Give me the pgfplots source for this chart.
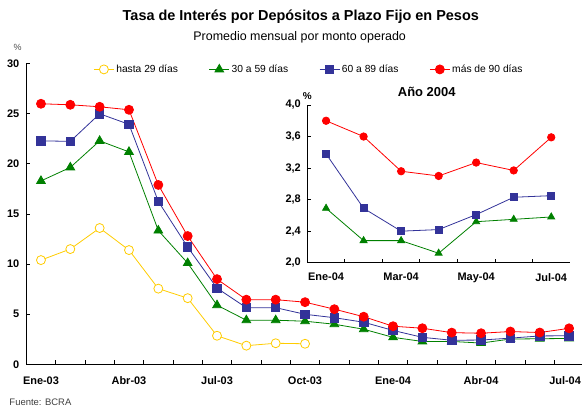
\documentclass[border=0pt]{standalone}
\usepackage{fontspec}
\setmainfont{Liberation Sans}
\usepackage{pgfplots}
\pgfplotsset{compat=1.18}

\definecolor{cyel}{HTML}{FFCC00}
\definecolor{cgrn}{HTML}{008000}
\definecolor{cblu}{HTML}{333399}
\definecolor{cred}{HTML}{FF0000}

\pgfplotsset{
  tasa/.style={
    scale only axis,
    axis lines=left,
    axis line style={-, line width=0.8bp},
    tick align=inside,
    major tick length=4bp, minor tick length=4bp,
    tick style={black, line width=0.8bp},
    major x tick style={draw=none},
    /pgf/number format/assume math mode=true,
    ticklabel style={font=\bfseries\fontsize{11}{13}\selectfont},
    clip=false,
  },
}

\begin{document}
\begin{tikzpicture}
\useasboundingbox (0,0) rectangle (582bp,411bp);

% main chart, Ene-03 .. Jul-04
\begin{axis}[tasa,
    at={(26.3bp,46.7bp)}, anchor=south west,
    width=555.7bp, height=300.6bp,
    xmin=-0.5, xmax=18.44, ymin=0, ymax=30,
    xtick={0,3,...,15},
    xticklabels={Ene-03,Abr-03,Jul-03,Oct-03,Ene-04,Abr-04},
    extra x ticks={18},
    extra x tick labels={Jul-04},
    extra x tick style={major tick length=0pt, xticklabel style={xshift=-4bp}},
    minor xtick={0.5,1.5,...,17.5},
    ytick={0,5,...,30},
    xticklabel style={yshift=-9bp},
    yticklabel style={xshift=-3.5bp},
    legend columns=4,
    legend image code/.code={\draw[mark repeat=2,mark phase=2,#1] plot coordinates {(0bp,0bp) (10bp,0bp) (20bp,0bp)};},
    legend style={draw=none, fill=none, inner sep=0pt,
      at={(0.1206,0.981)}, anchor=west,
      font=\fontsize{10.3}{12}\selectfont,
      /tikz/every even column/.append style={column sep=29bp}},
]
\addplot[cyel, line width=0.8bp, mark=*, mark size=4.5bp, mark options={fill=white, draw=cyel}]
  coordinates {(0,10.4) (1,11.5) (2,13.6) (3,11.4) (4,7.55) (5,6.6) (6,2.85) (7,1.86) (8,2.1) (9,2.05)};
\addplot[cgrn, line width=0.8bp, mark=triangle*, mark size=5bp, mark options={fill=cgrn}]
  coordinates {(0,18.3) (1,19.65) (2,22.3) (3,21.2) (4,13.35) (5,10.1) (6,5.9) (7,4.4) (8,4.4) (9,4.3)
    (10,4.0) (11,3.5) (12,2.69) (13,2.28) (14,2.28) (15,2.12) (16,2.52) (17,2.55) (18,2.58)};
\addplot[cblu, line width=0.8bp, mark=square*, mark size=4.2bp, mark options={fill=cblu}]
  coordinates {(0,22.3) (1,22.25) (2,25.0) (3,23.95) (4,16.25) (5,11.7) (6,7.6) (7,5.65) (8,5.65) (9,4.99)
    (10,4.65) (11,4.2) (12,3.38) (13,2.69) (14,2.40) (15,2.42) (16,2.61) (17,2.83) (18,2.85)};
\addplot[cred, line width=0.8bp, mark=*, mark size=4.5bp, mark options={fill=cred}]
  coordinates {(0,26.0) (1,25.9) (2,25.7) (3,25.4) (4,17.9) (5,12.8) (6,8.5) (7,6.45) (8,6.45) (9,6.2)
    (10,5.5) (11,4.75) (12,3.80) (13,3.60) (14,3.16) (15,3.10) (16,3.27) (17,3.17) (18,3.59)};
\legend{hasta 29 días, 30 a 59 días, 60 a 89 días, más de 90 días}
\end{axis}

% inset, year 2004
\begin{axis}[tasa,
    at={(307.3bp,148.3bp)}, anchor=south west,
    width=262.7bp, height=157.7bp,
    xmin=-0.5, xmax=6.5, ymin=2, ymax=4,
    xtick={0,2,4,6},
    xticklabels={Ene-04,Mar-04,May-04,Jul-04},
    minor xtick={0.5,1.5,...,5.5},
    ytick={2,2.4,2.8,3.2,3.6,4},
    xticklabel style={yshift=-7bp},
    yticklabel style={xshift=-3bp, /pgf/number format/.cd, fixed, fixed zerofill, precision=1, use comma},
]
\addplot[cgrn, line width=0.8bp, mark=triangle*, mark size=4bp, mark options={fill=cgrn}]
  coordinates {(0,2.69) (1,2.28) (2,2.28) (3,2.12) (4,2.52) (5,2.55) (6,2.58)};
\addplot[cblu, line width=0.8bp, mark=square*, mark size=3.6bp, mark options={fill=cblu}]
  coordinates {(0,3.38) (1,2.69) (2,2.40) (3,2.42) (4,2.61) (5,2.83) (6,2.85)};
\addplot[cred, line width=0.8bp, mark=*, mark size=3.7bp, mark options={fill=cred}]
  coordinates {(0,3.80) (1,3.60) (2,3.16) (3,3.10) (4,3.27) (5,3.17) (6,3.59)};
\end{axis}

\node[font=\bfseries\fontsize{14.5}{17}\selectfont, anchor=base] at (300.8bp,390.5bp) {Tasa de Interés por Depósitos a Plazo Fijo en Pesos};
\node[font=\fontsize{12.5}{15}\selectfont, anchor=base] at (299.7bp,370.5bp) {Promedio mensual por monto operado};
\node[font=\fontsize{9}{11}\selectfont, text=black!70] at (17.7bp,363.3bp) {\%};
\node[font=\bfseries\fontsize{10}{12}\selectfont] at (307.3bp,315bp) {\%};
\node[font=\bfseries\fontsize{13}{15}\selectfont] at (426.7bp,319.3bp) {Año 2004};
\node[font=\fontsize{9.5}{11}\selectfont, anchor=base west, inner sep=0pt, text=black!75] at (9.3bp,6bp) {Fuente: BCRA};
\end{tikzpicture}
\end{document}
